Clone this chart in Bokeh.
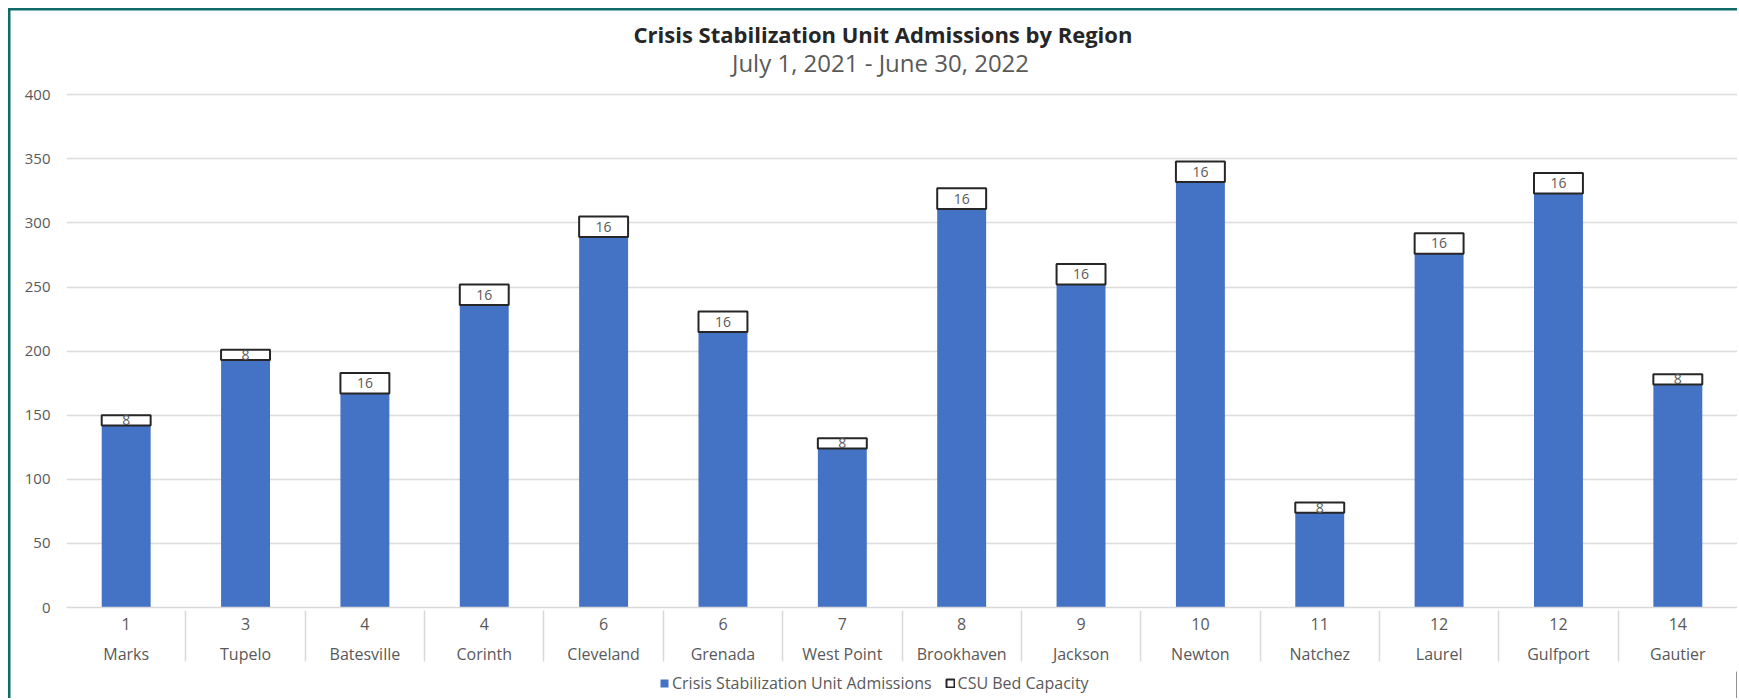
from bokeh.plotting import figure
from bokeh.layouts import column
from bokeh.models import (FactorRange, ColumnDataSource, Range1d, FixedTicker, Legend,
                          LegendItem, Label)
from bokeh.embed import file_html
from bokeh.resources import INLINE
from bokeh.core.properties import value

regions = ["1", "3", "4", "4", "6", "6", "7", "8", "9", "10", "11", "12", "12", "14"]
names = ["Marks", "Tupelo", "Batesville", "Corinth", "Cleveland", "Grenada", "West Point",
         "Brookhaven", "Jackson", "Newton", "Natchez", "Laurel", "Gulfport", "Gautier"]
admissions = [142, 193, 167, 236, 289, 215, 124, 311, 252, 332, 74, 276, 323, 174]
capacity = [8, 8, 16, 16, 16, 16, 8, 16, 16, 16, 8, 16, 16, 8]
y_ticks = [0, 50, 100, 150, 200, 250, 300, 350, 400]
series_names = ["Crisis Stabilization Unit Admissions", "CSU Bed Capacity"]
title_text = "Crisis Stabilization Unit Admissions by Region"
subtitle_text = "July 1, 2021 - June 30, 2022"

FONT = "Open Sans"
GREY = "#595959"
BLUE = "#4472C4"
TEAL = "#0f6b69"

W, H = 1737, 671
ML, MR, MT, MB = 66, 0, 0, 64
FH = H - MT - MB            # frame height in px (frame bottom at 607)
PX_PER_UNIT = 512.7 / 400   # 0..400 spans 512.7 px
Y_TOP = FH / PX_PER_UNIT    # extra headroom holds the titles

factors = [(n, r) for n, r in zip(names, regions)]
top = [a + c for a, c in zip(admissions, capacity)]
mid = [a + c / 2 for a, c in zip(admissions, capacity)]
src = ColumnDataSource(dict(x=factors, adm=admissions, cap=capacity, top=top, mid=mid,
                            lab=[str(c) for c in capacity]))

p = figure(x_range=FactorRange(factors=factors, group_padding=0, factor_padding=0, range_padding=0),
           y_range=Range1d(0, Y_TOP), width=W, height=H, output_backend="svg",
           toolbar_location=None, min_border_left=ML, min_border_right=MR, min_border_top=MT,
           min_border_bottom=MB)
p.outline_line_color = None
p.background_fill_color = None
p.border_fill_color = None

r1 = p.vbar(x="x", top="adm", bottom=0, width=0.41, source=src, fill_color=BLUE, line_color=None)
r2 = p.vbar(x="x", top="top", bottom="adm", width=0.41, source=src, fill_color="white",
            line_color="#262626", line_width=2)
p.text(x="x", y="mid", text="lab", source=src, text_align="center", text_baseline="middle",
       text_font=value(FONT), text_font_size="14px", text_color=GREY)

# y axis
ya = p.yaxis[0]
ya.ticker = FixedTicker(ticks=y_ticks)
ya.axis_line_color = None
ya.major_tick_line_color = None
ya.minor_tick_line_color = None
ya.major_tick_out = 0
ya.minor_tick_out = 0
ya.major_label_text_color = GREY
ya.major_label_text_font = FONT
ya.major_label_text_font_size = "15px"
ya.major_label_standoff = 16
p.ygrid.grid_line_color = "#dcdcdc"
p.ygrid.grid_line_width = 1.5
p.xgrid.grid_line_color = None

# x axis
xa = p.xaxis[0]
xa.axis_line_color = "#d9d9d9"
xa.axis_line_width = 1.5
xa.major_tick_line_color = None
xa.minor_tick_line_color = None
xa.major_tick_out = 0
xa.minor_tick_out = 0
xa.major_label_text_color = GREY
xa.major_label_text_font = FONT
xa.major_label_text_font_size = "16px"
xa.major_label_standoff = 10
xa.major_label_orientation = "horizontal"
xa.group_text_color = GREY
xa.group_text_font = FONT
xa.group_text_font_size = "16px"
xa.group_text_font_style = "normal"
xa.group_label_orientation = "horizontal"
xa.separator_line_color = "#d9d9d9"
xa.separator_line_width = 1.5

# titles (screen units, measured from the frame's bottom-left)
p.add_layout(Label(x=816.5, y=FH - 33.5, x_units="screen", y_units="screen", text=title_text,
                   text_align="center", text_baseline="middle", text_font=FONT,
                   text_font_size="22px", text_font_style="bold", text_color="#262626"))
p.add_layout(Label(x=814, y=FH - 62, x_units="screen", y_units="screen", text=subtitle_text,
                   text_align="center", text_baseline="middle", text_font=FONT,
                   text_font_size="24px", text_color=GREY))

# legend strip
lf = figure(width=W, height=27, x_range=Range1d(0, 1), y_range=Range1d(0, 1),
            output_backend="svg", toolbar_location=None, min_border=0,
            x_axis_location=None, y_axis_location=None)
lf.grid.visible = False
lf.outline_line_color = None
lf.background_fill_color = None
lf.border_fill_color = None
e1 = lf.vbar(x=[5], top=[5], width=0.1, fill_color=BLUE, line_color=None)
e2 = lf.vbar(x=[5], top=[5], width=0.1, fill_color="white", line_color="#262626", line_width=2)
legend = Legend(items=[LegendItem(label=series_names[0], renderers=[e1]),
                       LegendItem(label=series_names[1], renderers=[e2])],
                orientation="horizontal", location=(593, 4), label_text_font=FONT,
                label_text_font_size="16px", label_text_color=GREY, glyph_width=10, glyph_height=10,
                spacing=13, label_standoff=3, border_line_color=None, padding=0, margin=0,
                background_fill_alpha=0, label_height=18)
lf.add_layout(legend, "center")

layout = column(p, lf, spacing=0)
layout.styles = {
    "background-color": "white",
    "background-image": f"linear-gradient({TEAL}, {TEAL}), linear-gradient({TEAL}, {TEAL})",
    "background-size": "2.5px 100%, 100% 2.5px",
    "background-position": "7.5px 8px, 7.5px 8px",
    "background-repeat": "no-repeat",
}

open("out.html", "w").write(file_html(layout, INLINE))
